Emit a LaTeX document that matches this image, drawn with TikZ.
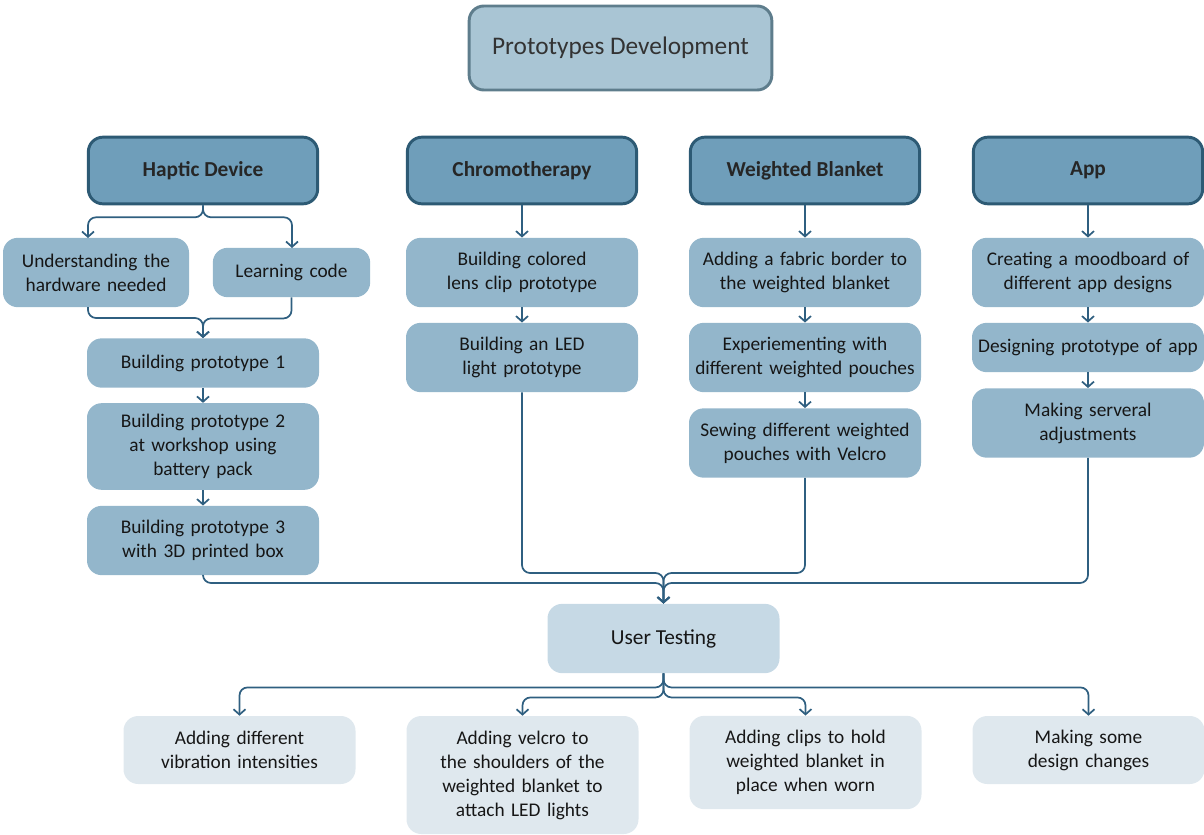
\documentclass[tikz,border=0pt]{standalone}
\usepackage{fontspec}
\setmainfont{Carlito}
\usetikzlibrary{arrows.meta}
\definecolor{ctitle}{HTML}{A9C5D4}
\definecolor{btitle}{HTML}{5E7D8C}
\definecolor{ccat}{HTML}{6F9EBA}
\definecolor{bcat}{HTML}{2D5A74}
\definecolor{csub}{HTML}{93B6CB}
\definecolor{cut}{HTML}{C6D9E5}
\definecolor{cbot}{HTML}{DFE8EE}
\definecolor{cline}{HTML}{2F5F80}
\definecolor{txt}{HTML}{161616}
\begin{document}
\begin{tikzpicture}[x=0.75pt,y=-0.75pt,
  base/.style={rounded corners=11pt, align=center, inner sep=0pt, text=txt,
    font=\fontsize{14.5}{18}\selectfont, minimum width=174pt},
  titlebox/.style={base, fill=ctitle, draw=btitle, line width=2.2pt,
    font=\fontsize{19}{22}\selectfont, text=black!80, minimum width=227pt, minimum height=63pt},
  catbox/.style={base, fill=ccat, draw=bcat, line width=2.2pt, text=black!85,
    font=\bfseries\fontsize{16}{18}\selectfont, minimum height=50pt, minimum width=172pt},
  subbox/.style={base, fill=csub, text width=172pt},
  utbox/.style={base, fill=cut, font=\fontsize{16}{18}\selectfont, minimum height=52pt},
  botbox/.style={base, fill=cbot, text width=172pt},
  conn/.style={draw=cline, line width=1.3pt, rounded corners=6pt,
    -{Straight Barb[length=4pt,width=9pt,line width=1.3pt]}},
  h37/.style={minimum height=37pt},
  h52/.style={minimum height=52pt}]
\useasboundingbox (0,0) rectangle (1204,835);

\node[titlebox] (title) at (620.5,48) {Prototypes Development};

\node[catbox] (hap) at (203,170.5) {Haptic Device};
\node[catbox] (chr) at (522,170.5) {Chromotherapy};
\node[catbox] (wb) at (805,170.5) {Weighted Blanket};
\node[catbox] (app) at (1088,170.5) {App};

\node[subbox, h52, minimum width=139.5pt, text width=137pt] (und) at (96,272.5) {Understanding the\\hardware needed};
\node[subbox, h37, minimum width=118pt, text width=116pt] (lc) at (291.5,272.5) {Learning code};
\node[subbox, h37] (p1) at (203,363) {Building prototype 1};
\node[subbox, minimum height=65pt] (p2) at (203,446.5) {Building prototype 2\\at workshop using\\battery pack};
\node[subbox, h52] (p3) at (203,540.5) {Building prototype 3\\with 3D printed box};

\node[subbox, h52] (c1) at (522,272.5) {Building colored\\lens clip prototype};
\node[subbox, h52] (c2) at (522,357.5) {Building an LED\\light prototype};

\node[subbox, h52] (w1) at (805,272.5) {Adding a fabric border to\\the weighted blanket};
\node[subbox, h52] (w2) at (805,357.5) {Experiementing with\\different weighted pouches};
\node[subbox, h52] (w3) at (805,443) {Sewing different weighted\\pouches with Velcro};

\node[subbox, h52] (a1) at (1088,272.5) {Creating a moodboard of\\different app designs};
\node[subbox, h37] (a2) at (1088,347.5) {Designing prototype of app};
\node[subbox, h52] (a3) at (1088,423) {Making serveral\\adjustments};

\node[utbox] (ut) at (663.5,638.5) {User Testing};

\node[botbox, minimum height=51pt] (b1) at (239.5,750) {Adding different\\vibration intensities};
\node[botbox, minimum height=88.5pt] (b2) at (522.5,775) {Adding velcro to\\the shoulders of the\\weighted blanket to\\attach LED lights};
\node[botbox, minimum height=70pt] (b3) at (805.5,762.5) {Adding clips to hold\\weighted blanket in\\place when worn};
\node[botbox, minimum height=51pt] (b4) at (1088.5,750) {Making some\\design changes};

\coordinate (undin) at (88,238);
\coordinate (undout) at (88,307);
\coordinate (lcin) at (292,248);
\coordinate (m1) at (0,573);
\coordinate (m2) at (0,583);

% Haptic branch
\draw[conn] (hap.south) -- ++(0,12) -| (undin);
\draw[conn] (hap.south) -- ++(0,12) -| (lcin);
\draw[conn] (undout) -- ++(0,11) -| (p1.north);
\draw[conn] (lc.south) -- ++(0,21) -| (p1.north);
\draw[conn] (p1.south) -- (p2.north);
\draw[conn] (p2.south) -- (p3.north);

% Chromotherapy
\draw[conn] (chr.south) -- (c1.north);
\draw[conn] (c1.south) -- (c2.north);

% Weighted blanket
\draw[conn] (wb.south) -- (w1.north);
\draw[conn] (w1.south) -- (w2.north);
\draw[conn] (w2.south) -- (w3.north);

% App
\draw[conn] (app.south) -- (a1.north);
\draw[conn] (a1.south) -- (a2.north);
\draw[conn] (a2.south) -- (a3.north);

% Merge into user testing
\draw[conn] (p3.south) -- (p3.south |- m2) -| (ut.north);
\draw[conn] (a3.south) -- (a3.south |- m2) -| (ut.north);
\draw[conn] (c2.south) -- (c2.south |- m1) -| (ut.north);
\draw[conn] (w3.south) -- (w3.south |- m1) -| (ut.north);

% User testing outcomes
\draw[conn] (ut.south) -- ++(0,14) -| (b1.north);
\draw[conn] (ut.south) -- ++(0,14) -| (b4.north);
\draw[conn] (ut.south) -- ++(0,24) -| (b2.north);
\draw[conn] (ut.south) -- ++(0,24) -| (b3.north);
\end{tikzpicture}
\end{document}
